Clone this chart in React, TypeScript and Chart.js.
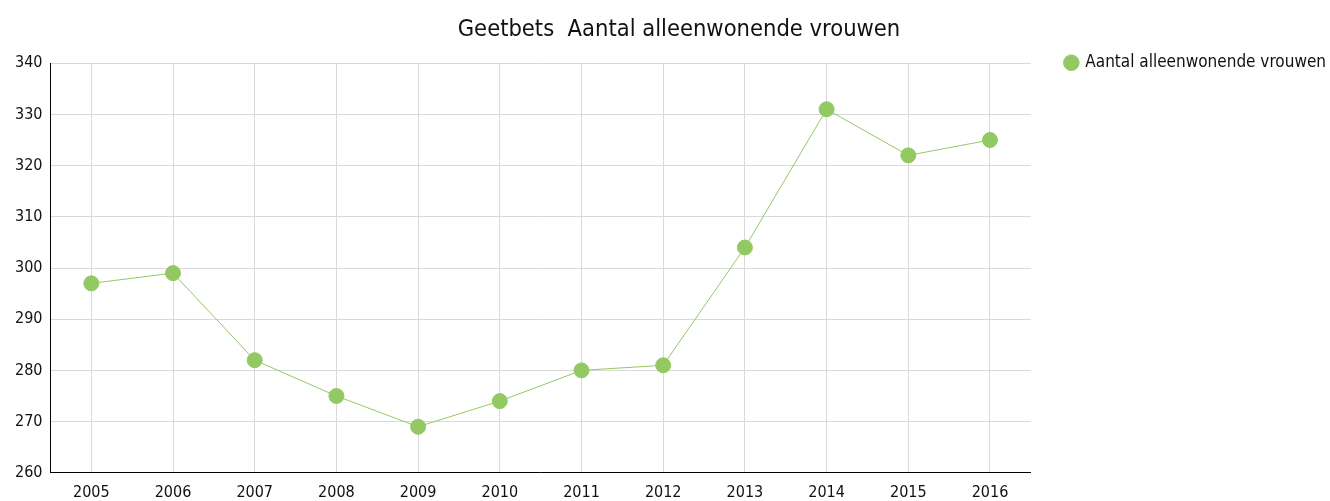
import React, { useEffect, useRef } from "react";
import { Chart, registerables } from "chart.js";

Chart.register(...registerables);

const years = ["2005", "2006", "2007", "2008", "2009", "2010", "2011", "2012", "2013", "2014", "2015", "2016"];
const vrouwen = [297, 299, 282, 275, 269, 274, 280, 281, 304, 331, 322, 325];
const titleText = "Geetbets  Aantal alleenwonende vrouwen";
const seriesLabel = "Aantal alleenwonende vrouwen";
const FONT = "'DejaVu Sans Condensed', 'DejaVu Sans', Verdana, sans-serif";
const GREEN = "#93C963";

const shiftBlocks = {
  id: "shiftBlocks",
  afterLayout(chart: any) {
    const t = chart.titleBlock;
    if (t) {
      t.left += 20;
      t.right += 20;
    }
    const l = chart.legend;
    if (l) {
      const dx = 1326 - (l.right - 10);
      l.left += dx;
      l.right += dx;
      l.top -= 19;
      l.bottom -= 19;
    }
  },
};

export default function App() {
  const ref = useRef<HTMLCanvasElement | null>(null);
  useEffect(() => {
    if (!ref.current) return;
    const chart = new Chart(ref.current, {
      type: "line",
      data: {
        labels: years,
        datasets: [
          {
            label: seriesLabel,
            data: vrouwen,
            borderColor: GREEN,
            backgroundColor: GREEN,
            borderWidth: 1,
            pointRadius: 7.5,
            pointHoverRadius: 7.5,
            pointBackgroundColor: GREEN,
            pointBorderColor: GREEN,
            tension: 0,
          },
        ],
      },
      options: {
        responsive: true,
        maintainAspectRatio: false,
        animation: false,
        layout: { padding: { left: 7, right: 19, top: 4, bottom: -11 } },
        plugins: {
          title: {
            display: true,
            text: titleText,
            color: "#111",
            font: { family: FONT, size: 23.5, weight: "normal" },
            padding: { top: 12, bottom: 19 },
          },
          legend: {
            position: "right",
            align: "start",
            fullSize: false,
            labels: {
              usePointStyle: true,
              pointStyle: "circle",
              boxWidth: 11,
              boxHeight: 11,
              color: "#111",
              font: { family: FONT, size: 17 },
              padding: 10,
            },
          },
          tooltip: { enabled: false },
        },
        scales: {
          x: {
            offset: true,
            grid: { offset: false, color: "#d9d9d9", drawTicks: false },
            border: { color: "#000", width: 1 },
            ticks: { color: "#111", font: { family: FONT, size: 16 }, padding: 10 },
          },
          y: {
            min: 260,
            max: 340,
            grid: { color: "#d9d9d9", drawTicks: false },
            border: { color: "#000", width: 1 },
            ticks: { stepSize: 10, color: "#111", font: { family: FONT, size: 16 }, padding: 8 },
          },
        },
      },
      plugins: [shiftBlocks],
    });
    return () => chart.destroy();
  }, []);
  return (
    <div style={{ position: "fixed", left: 0, top: 0, width: 1330, height: 501, background: "#fff" }}>
      <canvas ref={ref} />
    </div>
  );
}
